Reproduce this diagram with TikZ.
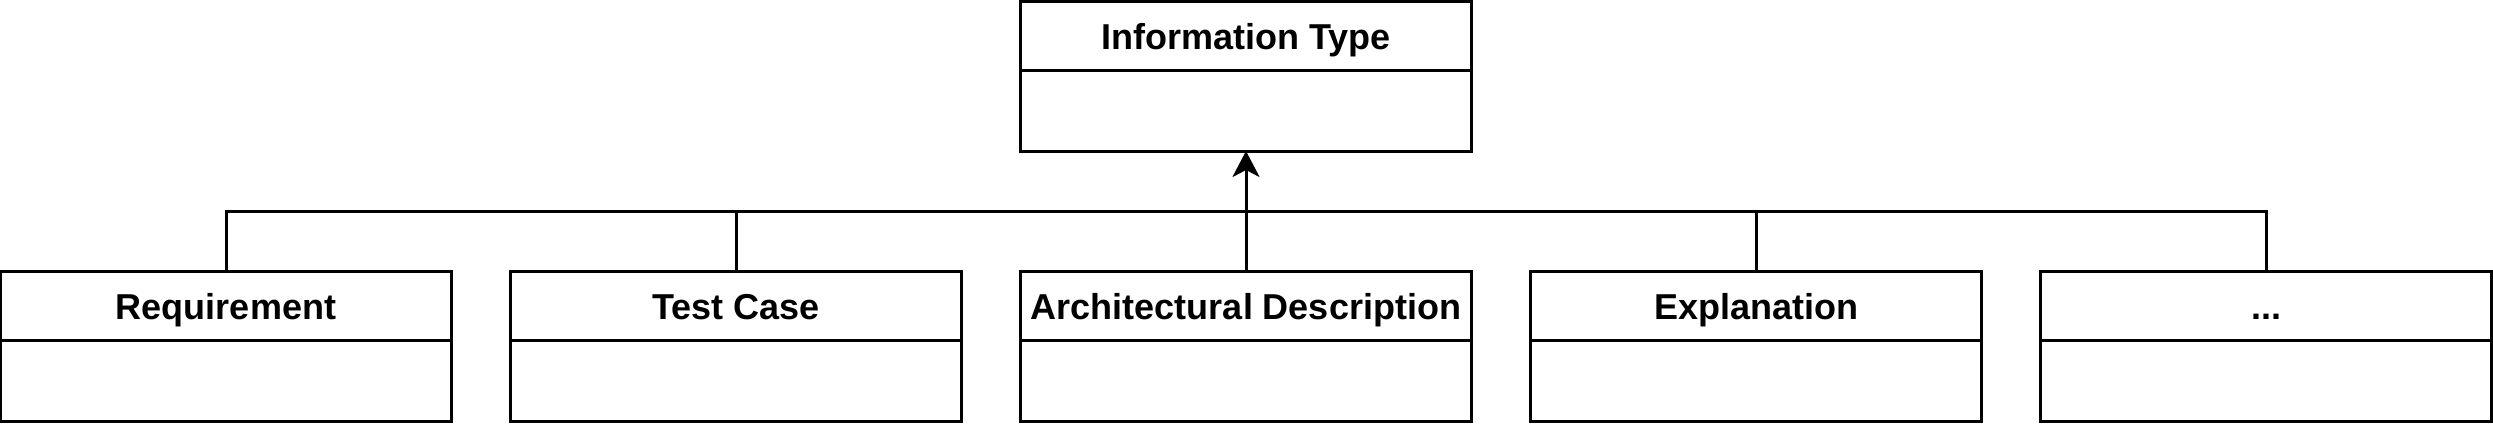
\documentclass[tikz,border=0pt]{standalone}
\usepackage{fontspec}
\setmainfont{Liberation Sans}
\usetikzlibrary{arrows.meta}
\begin{document}
\begin{tikzpicture}[x=1pt,y=-1pt,
  classbox/.style={draw=black,line width=3pt,fill=white,minimum width=451pt,minimum height=150pt,inner sep=0pt,outer sep=0pt},
  classtitle/.style={font=\bfseries\fontsize{36}{40}\selectfont,inner sep=0pt,anchor=base},
  conn/.style={draw=black,line width=3pt,line join=miter}]
\useasboundingbox (0,0) rectangle (2493,426);
\node[classbox] (top) at (1246,76) {};
\node[classbox] (req) at (226,346) {};
\node[classbox] (tc) at (736,346) {};
\node[classbox] (arch) at (1246,346) {};
\node[classbox] (expl) at (1756,346) {};
\node[classbox] (more) at (2266,346) {};
\foreach \n/\t in {top/Information Type,req/Requirement,tc/Test Case,arch/Architectural Description,expl/Explanation}{
  \node[classtitle] (\n-title) at ([yshift=-48.5pt]\n.north) {\t};
}
\node[classtitle] (more-title) at ([yshift=-48.5pt]more.north) {...};
\foreach \n in {top,req,tc,arch,expl,more}{
  \draw[conn] ([yshift=-69pt]\n.north west) -- ([yshift=-69pt]\n.north east);
}
\coordinate (bus) at (1246,211);
\draw[conn] (req.north) |- (more.north |- bus) -- (more.north);
\draw[conn] (tc.north) -- (tc.north |- bus);
\draw[conn] (expl.north) -- (expl.north |- bus);
\draw[conn,-{Stealth[length=26pt,width=27pt,inset=7pt]}] (arch.north) -- (top.south);
\end{tikzpicture}
\end{document}
